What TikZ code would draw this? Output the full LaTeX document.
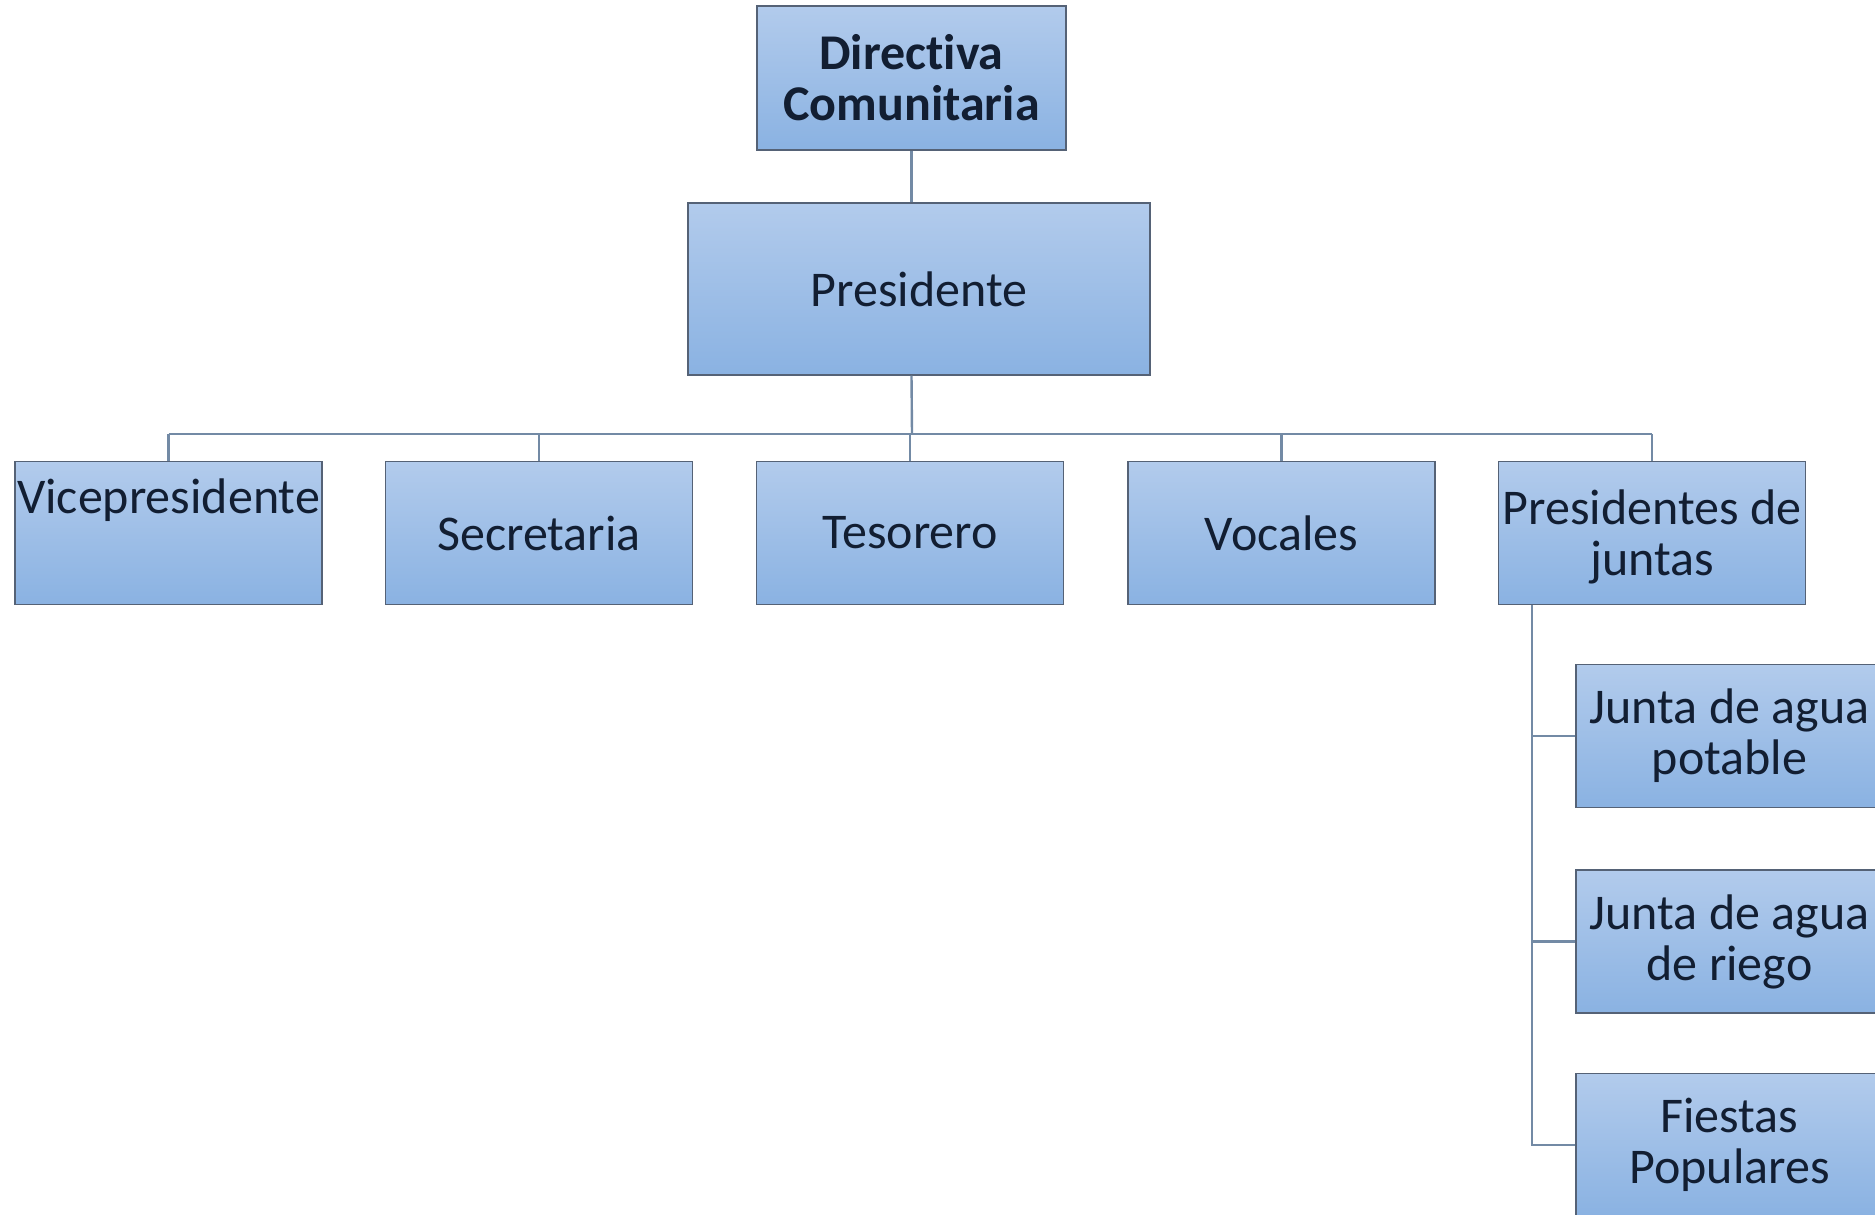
\documentclass[tikz,border=0pt]{standalone}
\usepackage{fontspec}
\setmainfont{Carlito}[Ligatures=NoCommon]
\usepackage{tikz}
\usetikzlibrary{positioning, calc}
\definecolor{boxtop}{RGB}{178,203,236}
\definecolor{boxbot}{RGB}{138,178,226}
\definecolor{boxline}{RGB}{85,98,118}
\definecolor{linkline}{RGB}{115,138,165}
\definecolor{ink}{RGB}{18,30,50}
\tikzset{
  unit/.style={draw=boxline, line width=0.6pt, rectangle, top color=boxtop, bottom color=boxbot,
    minimum width=153.5pt, minimum height=71.5pt, inner sep=0pt, align=center, text=ink,
    font=\fontsize{25pt}{25.5pt}\selectfont},
  head/.style={unit, minimum width=154.5pt, minimum height=72pt, font=\fontsize{25pt}{25.5pt}\selectfont\bfseries},
  chief/.style={unit, minimum width=231pt, minimum height=86pt},
  link/.style={draw=linkline, line width=1.2pt},
}

\begin{document}
\begin{tikzpicture}[x=0.5pt, y=-0.5pt]
  \useasboundingbox (0,0) rectangle (1875,1215);
  \clip (0,0) rectangle (1875,1215);

  \node[head] (top) at (911.5,78) {Directiva\\Comunitaria};
  \node[chief] (pres) at (919,289) {Presidente};

  \node[unit, text depth=37pt] (vice) at (168.5,533) {Vicepresidente};
  \node[unit] (secr) at (539,533) {Secretaria};
  \node[unit] (teso) at (910,533) {Tesorero};
  \node[unit] (voca) at (1281.5,533) {Vocales};
  \node[unit, text depth=0pt] (pjun) at (1652,533) {Presidentes de\\juntas};

  \node[unit] (pota) at (1729.5,736) {Junta de agua\\potable};
  \node[unit] (rieg) at (1729.5,941.5) {Junta de agua\\de riego};
  \node[unit] (fies) at (1729.5,1145) {Fiestas\\Populares};

  % connectors
  \coordinate (bus) at (912,434);
  \coordinate (spine) at ([xshift=17pt]pjun.south west);
  \draw[link] (top.south) -- (top.south |- pres.north);
  \draw[link] (pres.south -| top.south) -- (bus);
  \draw[link] (bus -| vice.north) -- (bus -| pjun.north);
  \foreach \n in {vice, secr, teso, voca, pjun}
    \draw[link] (bus -| \n.north) -- (\n.north);
  \draw[link] (spine) |- (fies.west);
  \draw[link] (spine |- pota.west) -- (pota.west);
  \draw[link] (spine |- rieg.west) -- (rieg.west);
\end{tikzpicture}
\end{document}
